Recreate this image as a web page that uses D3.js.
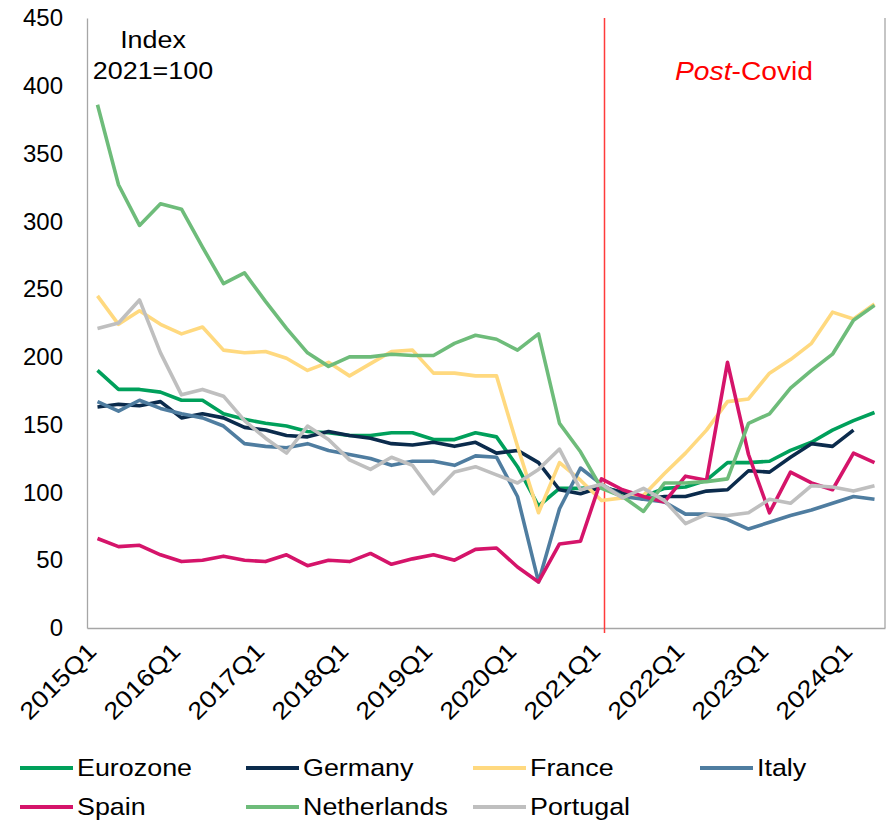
<!DOCTYPE html>
<html>
<head>
<meta charset="utf-8">
<script src="https://cdn.jsdelivr.net/npm/d3@7"></script>
<style>
  html, body { margin: 0; padding: 0; background: #fff; }
  svg { display: block; font-family: "Liberation Sans", Arial, sans-serif; }
</style>
</head>
<body>
<svg id="chart" width="893" height="824"></svg>
<script>
// Quarterly categories 2015Q1 .. 2024Q2
const quarters = [];
for (let yr = 2015; yr <= 2024; yr++) {
  for (let q = 1; q <= 4; q++) {
    if (yr === 2024 && q > 2) break;
    quarters.push(yr + "Q" + q);
  }
}
const tickLabels = ["2015Q1","2016Q1","2017Q1","2018Q1","2019Q1","2020Q1","2021Q1","2022Q1","2023Q1","2024Q1"];
const yTicks = [0, 50, 100, 150, 200, 250, 300, 350, 400, 450];

const eurozone = [190,176,176,174,168,168,158,154,151,149,145,144,142,142,144,144,139,139,144,141,119,90,103,103,104,100,97,103,104,109,122,122,123,131,137,146,153,159];
const germany  = [163,165,164,167,155,158,155,148,146,142,141,145,142,140,136,135,137,134,137,129,131,122,102,99,104,100,95,97,97,101,102,116,115,126,136,134,146,null];
const france   = [245,224,234,224,217,222,205,203,204,199,190,196,186,195,204,205,188,188,186,186,134,85,122,109,94,96,98,114,129,146,167,169,188,198,210,233,228,239];
const italy    = [167,160,168,162,158,155,149,136,134,133,136,131,128,125,120,123,123,120,127,126,97,34,88,118,106,97,95,93,84,84,80,73,78,83,87,92,97,95];
const spain    = [66,60,61,54,49,50,53,50,49,54,46,50,49,55,47,51,54,50,58,59,45,34,62,64,110,102,97,93,112,109,196,128,85,115,107,102,129,122];
const netherlands = [386,327,297,313,309,281,254,262,241,221,203,193,200,200,202,201,201,210,216,213,205,217,151,130,103,97,86,107,107,108,110,151,158,177,190,202,227,238];
const portugal = [221,225,242,203,172,176,171,153,140,129,149,139,124,117,126,120,99,115,119,113,107,117,132,102,106,96,103,94,77,84,83,85,95,92,105,104,101,105];

const seriesNames  = ["Eurozone","Germany","France","Italy","Spain","Netherlands","Portugal"];
const seriesValues = [eurozone, germany, france, italy, spain, netherlands, portugal];
const seriesColors = ["#00A05B","#0B2B4C","#FFD97F","#4F7DA0","#D5146A","#6EBC7A","#BFBFBF"];

const svg = d3.select("#chart");
const plot = { left: 87, right: 885, top: 18, bottom: 628 };

const x = d3.scaleBand().domain(quarters).range([plot.left, plot.right]).padding(0);
const cx = q => x(q) + x.bandwidth() / 2;
const y = d3.scaleLinear().domain([0, 450]).range([plot.bottom, plot.top]);

const axisColor = "#A6A6A6";
const stretch = 1.12;   // slightly wide lettering

// Right edge of the plot frame
svg.append("line").attr("x1", plot.right).attr("x2", plot.right)
  .attr("y1", plot.top).attr("y2", plot.bottom)
  .attr("stroke", axisColor).attr("stroke-width", 1.3);

// Y axis
const yAxis = svg.append("g")
  .attr("transform", `translate(${plot.left},0)`)
  .call(d3.axisLeft(y).tickValues(yTicks).tickSize(0).tickPadding(24));
yAxis.select(".domain").attr("stroke", axisColor).attr("stroke-width", 1.3);
yAxis.selectAll("text").attr("font-size", 24).attr("fill", "#000")
  .attr("font-family", "Liberation Sans, Arial, sans-serif");

// X axis with rotated quarter labels
const xAxis = svg.append("g")
  .attr("transform", `translate(0,${plot.bottom})`)
  .call(d3.axisBottom(x).tickValues(tickLabels).tickSize(0).tickFormat(d => d));
xAxis.select(".domain").attr("stroke", axisColor).attr("stroke-width", 1.3);
xAxis.selectAll(".tick text")
  .attr("font-size", 24).attr("fill", "#000")
  .attr("font-family", "Liberation Sans, Arial, sans-serif")
  .attr("text-anchor", "end")
  .attr("x", 0).attr("y", 0).attr("dy", "0.35em")
  .attr("transform", "translate(-5.5,19) rotate(-45) scale(1.13,1)");

// Post-Covid divider at 2021Q1
const divX = cx("2021Q1") + 3;
svg.append("line")
  .attr("x1", divX).attr("x2", divX)
  .attr("y1", plot.top).attr("y2", plot.bottom + 5)
  .attr("stroke", "#FF3B3B").attr("stroke-width", 1.5);

// Series lines
const line = d3.line()
  .defined(d => d.v != null)
  .x(d => cx(d.q))
  .y(d => y(d.v));

seriesValues.forEach((vals, i) => {
  const pts = quarters.map((q, k) => ({ q, v: vals[k] }));
  svg.append("path")
    .datum(pts)
    .attr("fill", "none")
    .attr("stroke", seriesColors[i])
    .attr("stroke-width", 3.6)
    .attr("stroke-linejoin", "round")
    .attr("d", line);
});

// Annotations
const idx = svg.append("g").attr("font-size", 24).attr("fill", "#000");
idx.append("text").attr("text-anchor", "middle")
  .attr("transform", `translate(153,48) scale(${stretch},1)`).text("Index");
idx.append("text").attr("text-anchor", "middle")
  .attr("transform", `translate(153,79) scale(${stretch},1)`).text("2021=100");

const pc = svg.append("text").attr("font-size", 25).attr("fill", "#FF0000")
  .attr("transform", "translate(675,80) scale(1.13,1)");
pc.append("tspan").attr("font-style", "italic").text("Post");
pc.append("tspan").text("-Covid");

// Legend
const legendPos = [
  [20, 768], [246, 768], [473, 768], [700, 768],
  [20, 807], [246, 807], [473, 807]
];
seriesNames.forEach((name, i) => {
  const [lx, ly] = legendPos[i];
  const g = svg.append("g").attr("transform", `translate(${lx},${ly})`);
  g.append("line").attr("x1", 0).attr("x2", 53).attr("y1", 0).attr("y2", 0)
    .attr("stroke", seriesColors[i]).attr("stroke-width", 4);
  g.append("text").attr("transform", `translate(57,0) scale(${stretch},1)`)
    .attr("dy", "0.35em").attr("font-size", 24).attr("fill", "#000").text(name);
});
</script>
</body>
</html>
